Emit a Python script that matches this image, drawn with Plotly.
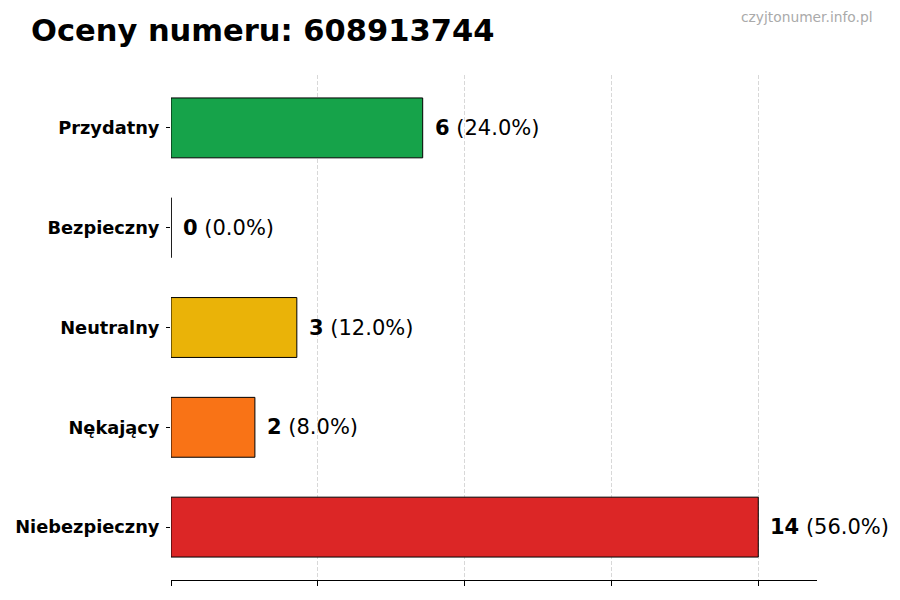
import plotly.graph_objects as go

categories = ["Przydatny", "Bezpieczny", "Neutralny", "Nękający", "Niebezpieczny"]
values = [6, 0, 3, 2, 14]
colors = ["#16a34a", "#2563eb", "#eab308", "#f97316", "#dc2626"]
x_ticks = [0, 3.5, 7, 10.5, 14]
title_text = "Oceny numeru: 608913744"
watermark = "czyjtonumer.info.pl"

total = sum(values)
font_family = "DejaVu Sans"

fig = go.Figure()
fig.add_trace(go.Bar(
    x=values,
    y=categories,
    orientation="h",
    width=0.6,
    marker=dict(color=colors, line=dict(color="black", width=1)),
    hoverinfo="skip",
))

annotations = []
shapes = []
for i, (c, v) in enumerate(zip(categories, values)):
    pct = v / total * 100 if total else 0
    annotations.append(dict(
        x=v, y=c, xref="x", yref="y",
        text=f"<b>{v}</b> ({pct:.1f}%)",
        showarrow=False, xanchor="left", yanchor="middle",
        xshift=10,
        font=dict(family=font_family, size=21, color="black"),
    ))
    if v == 0:
        shapes.append(dict(
            type="line", xref="x", yref="y",
            x0=v, x1=v, y0=i - 0.3, y1=i + 0.3,
            line=dict(color="black", width=1),
        ))

annotations.append(dict(
    x=(875 - 171) / 646, y=(580 - 17) / 505, xref="paper", yref="paper",
    text=watermark, showarrow=False, xanchor="right", yanchor="middle",
    font=dict(family=font_family, size=13.8, color="#aaaaaa"),
))

fig.update_layout(
    width=900, height=600,
    paper_bgcolor="white", plot_bgcolor="white",
    margin=dict(l=163, r=91, t=67, b=28, autoexpand=False),
    showlegend=False,
    title=dict(
        text=f"<b>{title_text}</b>",
        xref="container", yref="container",
        x=23 / 900, xanchor="left",
        y=1 - 22 / 600, yanchor="middle",
        font=dict(family=font_family, size=30.5, color="black"),
    ),
    annotations=annotations,
    shapes=shapes,
)

fig.update_xaxes(
    range=[0, 15.4],
    tickvals=x_ticks,
    showticklabels=False,
    ticks="outside", ticklen=5, tickcolor="black", tickwidth=1,
    showline=True, linecolor="black", linewidth=1,
    showgrid=True, gridcolor="#d8d8d8", griddash="4px,2px", gridwidth=1,
    zeroline=False, automargin=False,
)
fig.update_yaxes(
    range=[4.53, -0.53],
    categoryorder="array", categoryarray=categories,
    ticks="outside", ticklen=4, tickcolor="black",
    showline=False, showgrid=False, zeroline=False,
    tickfont=dict(family=font_family, size=17.8, color="black", weight="bold"),
    ticklabelstandoff=3, automargin=False,
)

fig.write_html("out.html")
